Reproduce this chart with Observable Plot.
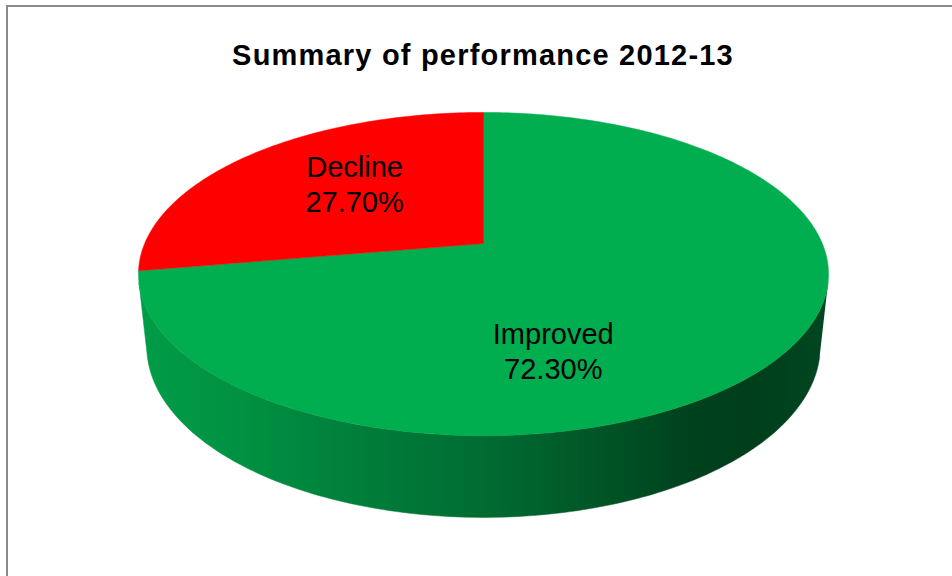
<!DOCTYPE html>
<html><head><meta charset="utf-8">
<script src="https://cdn.jsdelivr.net/npm/d3@7"></script>
<script src="https://cdn.jsdelivr.net/npm/@observablehq/plot@0.6"></script>
<style>
html,body{margin:0;padding:0;background:#fff;overflow:hidden}
#wrap{position:relative;width:952px;height:576px;overflow:hidden}
#wrap svg{position:absolute;left:0;top:0}
#border{position:absolute;left:6px;top:5px;width:2000px;height:2000px;border-left:2px solid #8a8a8a;border-top:2px solid #8a8a8a;pointer-events:none;z-index:2}
</style></head><body><div id="wrap"><div id="border"></div></div>
<script>
// ---- data ----
const title = "Summary of performance 2012-13";
const categories = ["Improved", "Decline"];
const values = [72.3, 27.7];
const valueLabels = ["72.30%", "27.70%"];
const colors = ["#00ad4f", "#ff0000"];

// ---- 3D view (perspective) ----
const sinA = 0.4599, cosA = Math.sqrt(1 - sinA * sinA);
const D = 4.698;      // camera distance (radius units)
const H = 0.242;      // pie thickness (radius units)
function project(X, Y, Z) {
  const depth = D + Y * cosA - Z * sinA;
  return {px: D * X / depth, py: D * (Y * sinA + Z * cosA) / depth};
}
const rad = (deg) => deg * Math.PI / 180;
const total = d3.sum(values);
let acc = 0;
const slices = categories.map((name, i) => {
  const a0 = acc / total * 360; acc += values[i];
  const a1 = acc / total * 360;
  return {name, i, a0, a1, text: name + "\n" + valueLabels[i]};
});

// top faces
const topData = [];
for (const s of slices) {
  const c = project(0, 0, 0);
  topData.push({name: s.name, ...c});
  const n = Math.max(8, Math.ceil((s.a1 - s.a0) / 1));
  for (let k = 0; k <= n; k++) {
    const t = rad(s.a0 + (s.a1 - s.a0) * k / n);
    topData.push({name: s.name, ...project(Math.sin(t), Math.cos(t), 0)});
  }
  topData.push({name: s.name, ...c});
}

// visible side wall (between silhouette generators)
const thR = Math.acos(-1 / (D * cosA)) * 180 / Math.PI;
const thL = 360 - thR;
const sideData = [];
for (const s of slices) {
  const b0 = Math.max(s.a0, thR), b1 = Math.min(s.a1, thL);
  if (b1 <= b0) continue;
  const n = Math.ceil(b1 - b0);
  const pts = [];
  for (let k = 0; k <= n; k++) { const t = rad(b0 + (b1 - b0) * k / n); pts.push({name: s.name, ...project(Math.sin(t), Math.cos(t), 0)}); }
  for (let k = n; k >= 0; k--) { const t = rad(b0 + (b1 - b0) * k / n); pts.push({name: s.name, ...project(Math.sin(t), Math.cos(t), -H)}); }
  sideData.push(...pts);
}

// labels at mid-angle
const labelData = slices.map(s => {
  const t = rad((s.a0 + s.a1) / 2), r = 0.53;
  return {name: s.name, text: s.text, ...project(r * Math.sin(t), r * Math.cos(t), 0)};
});
const labelNudge = {Decline: [0, -10], Improved: [-77, 50]};

const ext = D / Math.sqrt(D * D - cosA * cosA);
const shade = [[0, 0.9], [0.15, 0.84], [0.32, 0.73], [0.51, 0.62], [0.70, 0.46], [0.79, 0.38], [0.89, 0.36], [1, 0.41]];
const font = "Liberation Sans, Arial, sans-serif";

const chart = Plot.plot({
  width: 952, height: 576, margin: 0,
  style: {background: "transparent", overflow: "visible"},
  x: {axis: null, domain: [-1, 1], range: [483 - 338.8, 483 + 338.8]},
  y: {axis: null, domain: [-1, 1], range: [243 + 338.8, 243 - 338.8]},
  color: {domain: categories, range: colors},
  marks: [
    (index, scales) => {
      const defs = d3.create("svg:defs");
      categories.forEach((name, i) => {
        const g = defs.append("linearGradient").attr("id", "side" + i)
          .attr("gradientUnits", "userSpaceOnUse")
          .attr("x1", scales.x(-ext)).attr("x2", scales.x(ext)).attr("y1", 0).attr("y2", 0);
        const base = d3.rgb(colors[i]);
        for (const [o, f] of shade) {
          g.append("stop").attr("offset", o)
            .attr("stop-color", d3.rgb(base.r * f, base.g * f, base.b * f).formatHex());
        }
      });
      return defs.node();
    },
    ...categories.map((name, i) => Plot.line(sideData.filter(d => d.name === name), {
      x: "px", y: "py", fill: `url(#side${i})`, stroke: `url(#side${i})`, strokeWidth: 0.5, curve: "linear"
    })),
    Plot.line(topData, {x: "px", y: "py", z: "name", fill: "name", stroke: "name", strokeWidth: 0.5}),
    ...categories.map(name => Plot.text(labelData.filter(d => d.name === name), {
      x: "px", y: "py", text: "text", fontSize: 29, lineHeight: 1.2, fontFamily: font, fill: "#000",
      dx: labelNudge[name][0], dy: labelNudge[name][1]
    })),
    Plot.text([title], {frameAnchor: "top", lineAnchor: "middle", dx: 6.5, dy: 55, fontSize: 29, fontWeight: "bold", fontFamily: font, fill: "#000"})
  ]
});
d3.select(chart).selectAll("text").filter(function () { return this.textContent === title; }).attr("letter-spacing", "1.2px");
document.getElementById("wrap").appendChild(chart);
</script></body></html>
